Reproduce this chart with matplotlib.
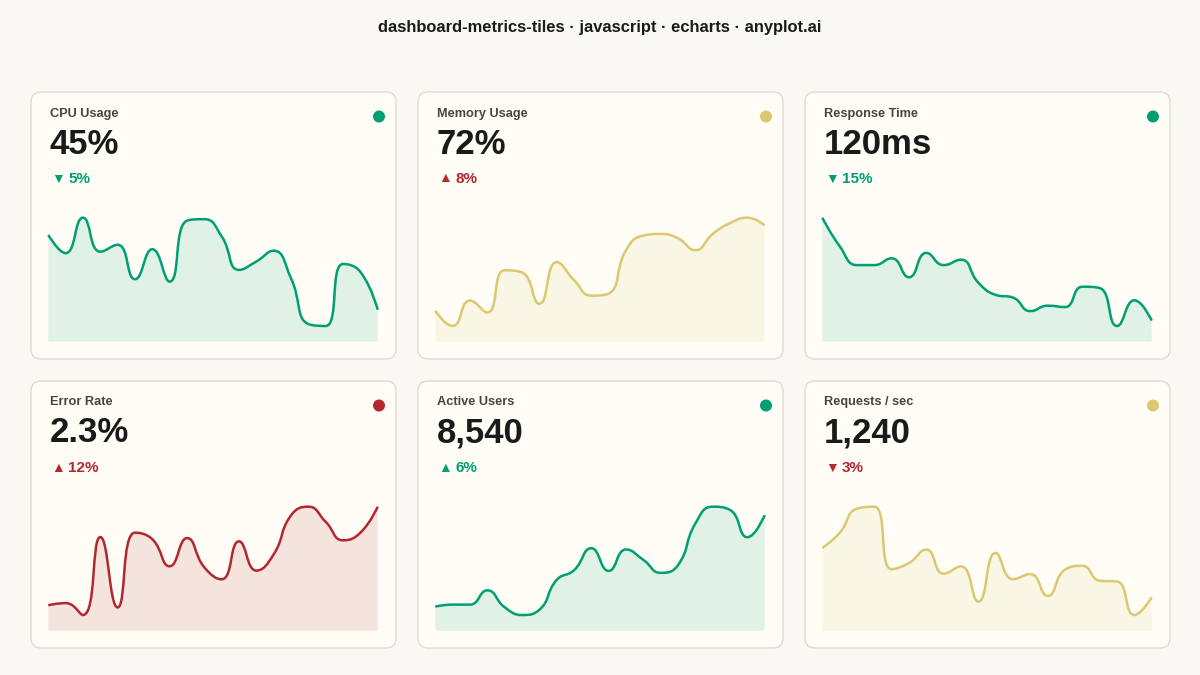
import numpy as np
import matplotlib
matplotlib.use("Agg")
import matplotlib.pyplot as plt
from matplotlib.patches import FancyBboxPatch, Circle, PathPatch
from matplotlib.path import Path
from matplotlib.transforms import Affine2D

W, H = 1200, 675

# ---- data ----
titles = ["CPU Usage", "Memory Usage", "Response Time",
          "Error Rate", "Active Users", "Requests / sec"]
values = ["45%", "72%", "120ms", "2.3%", "8,540", "1,240"]
changes = ["5%", "8%", "15%", "12%", "6%", "3%"]
directions = ["down", "up", "down", "up", "up", "down"]
change_good = [True, False, True, False, True, False]
status = ["good", "warn", "good", "bad", "good", "warn"]

cpu = [56.5, 52.8, 60.0, 53.1, 54.5, 47.5, 53.6, 47.0, 59.4, 59.7,
       56.2, 49.4, 51.1, 53.3, 47.7, 38.4, 38.0, 50.6, 49.0, 41.3]
memory = [62.8, 60.0, 64.7, 62.5, 70.3, 69.9, 64.1, 71.8, 68.5, 65.6,
          66.0, 74.0, 76.7, 77.0, 76.2, 74.0, 77.0, 79.0, 80.0, 78.6]
response = [190, 169, 155, 155, 160, 146, 164, 155, 159, 142,
            133, 131, 121, 125, 124, 139, 138, 110, 129, 114]
errors = [1.39, 1.41, 1.30, 2.02, 1.37, 2.06, 2.00, 1.75, 2.01, 1.74,
          1.63, 1.98, 1.71, 1.86, 2.22, 2.30, 2.16, 1.99, 2.06, 2.30]
users = [7130, 7160, 7160, 7380, 7120, 7000, 7080, 7540, 7690, 8030,
         7680, 8010, 7850, 7650, 7770, 8410, 8670, 8620, 8200, 8540]
requests = [1490, 1567, 1690, 1700, 1383, 1414, 1482, 1360, 1397, 1218,
            1465, 1332, 1358, 1247, 1380, 1400, 1324, 1320, 1150, 1240]
series = [cpu, memory, response, errors, users, requests]

# ---- style ----
BG = "#FAF8F2"
CARD = "#FFFDF6"
BORDER = "#DCD8CF"
GREEN = "#009E73"
YELLOW = "#DCC870"
RED = "#B2282E"
status_color = {"good": GREEN, "warn": YELLOW, "bad": RED}
FONT = ["Liberation Sans", "DejaVu Sans"]

plt.rcParams["font.family"] = FONT


def echarts_smooth(px, py, smooth=0.5):
    """Bezier path like echarts' smooth line (points in pixel space)."""
    verts = [(px[0], py[0])]
    codes = [Path.MOVETO]
    cx0, cy0 = px[0], py[0]
    n = len(px)
    for i in range(1, n):
        x, y = px[i], py[i]
        x_p, y_p = px[i - 1], py[i - 1]
        if i == n - 1:
            cx1, cy1 = x, y
            nx0, ny0 = x, y
        else:
            x_n, y_n = px[i + 1], py[i + 1]
            vx, vy = x_n - x_p, y_n - y_p
            lp = np.hypot(x - x_p, y - y_p)
            ln = np.hypot(x_n - x, y_n - y)
            r = ln / (ln + lp)
            nx0 = x + vx * smooth * r
            ny0 = y + vy * smooth * r
            nx0 = min(max(nx0, min(x_n, x)), max(x_n, x))
            ny0 = min(max(ny0, min(y_n, y)), max(y_n, y))
            vx, vy = nx0 - x, ny0 - y
            cx1 = x - vx * lp / ln
            cy1 = y - vy * lp / ln
            cx1 = min(max(cx1, min(x_p, x)), max(x_p, x))
            cy1 = min(max(cy1, min(y_p, y)), max(y_p, y))
            vx, vy = x - cx1, y - cy1
            nx0 = x + vx * ln / lp
            ny0 = y + vy * ln / lp
        verts += [(cx0, cy0), (cx1, cy1), (x, y)]
        codes += [Path.CURVE4] * 3
        cx0, cy0 = nx0, ny0
    return verts, codes


fig = plt.figure(figsize=(W / 100, H / 100), dpi=100, facecolor=BG)
# pixel coords, origin top-left
pix = Affine2D().scale(1, -1).translate(0, H).scale(1 / W, 1 / H) + fig.transFigure


def ftext(x, y, s, **kw):
    fig.text(x / W, 1 - y / H, s, **kw)


ftext(600, 32, "dashboard-metrics-tiles · javascript · echarts · anyplot.ai",
      ha="center", va="baseline", fontsize=11.9, fontweight="bold", color="#1A1A1A")

card_x = [31, 418, 805]
card_y = [92, 381]
card_w, card_h = 365, 267
spark_w, spark_h = 329.4, 124

for k in range(6):
    cx = card_x[k % 3]
    cy = card_y[k // 3]
    fig.patches.append(FancyBboxPatch(
        (cx, cy), card_w, card_h, boxstyle="round,pad=0,rounding_size=10",
        transform=pix, facecolor=CARD, edgecolor=BORDER, linewidth=0.9))
    fig.patches.append(Circle((cx + 348, cy + 24.5), 6, transform=pix,
                              facecolor=status_color[status[k]], edgecolor="none"))

    ftext(cx + 19, cy + 24.5, titles[k], ha="left", va="baseline",
          fontsize=9.2, fontweight="bold", color="#454545")
    ftext(cx + 18.5, cy + 61.5, values[k], ha="left", va="baseline",
          fontsize=25, fontweight="bold", color="#1A1A1A")
    ccol = GREEN if change_good[k] else RED
    arrow = "▼" if directions[k] == "down" else "▲"
    ftext(cx + 20.5, cy + 90.5, arrow, ha="left", va="baseline",
          fontsize=10, color=ccol, family=FONT)
    ftext(cx + 37, cy + 91, changes[k], ha="left", va="baseline",
          fontsize=11, fontweight="bold", color=ccol)

    # sparkline
    data = np.asarray(series[k], dtype=float)
    lo_d, hi_d = data.min(), data.max()
    lo = lo_d - 0.145 * (hi_d - lo_d)
    hi = hi_d
    col = status_color[status[k]]
    left = cx + 17.3
    bottom = cy + 249.7
    ax = fig.add_axes([left / W, 1 - bottom / H, spark_w / W, spark_h / H])
    ax.set_zorder(3)
    ax.set_xlim(0, len(data) - 1)
    ax.set_ylim(lo, hi)
    ax.axis("off")
    ax.patch.set_alpha(0)

    sx = spark_w / (len(data) - 1)
    sy = spark_h / (hi - lo)
    idx = np.arange(len(data))
    verts, codes = echarts_smooth(idx * sx, (data - lo) * sy)
    verts = [(vx / sx, lo + vy / sy) for vx, vy in verts]
    line = Path(verts, codes)
    area = Path(verts + [(idx[-1], lo), (idx[0], lo), (idx[0], lo)],
                codes + [Path.LINETO, Path.LINETO, Path.CLOSEPOLY])
    ax.add_patch(PathPatch(area, facecolor=col, alpha=0.12,
                           edgecolor="none", clip_on=False))
    ax.add_patch(PathPatch(line, facecolor="none", edgecolor=col,
                           linewidth=1.8, clip_on=False, capstyle="butt",
                           joinstyle="round"))

fig.savefig("out.png", dpi=100, facecolor=BG)
